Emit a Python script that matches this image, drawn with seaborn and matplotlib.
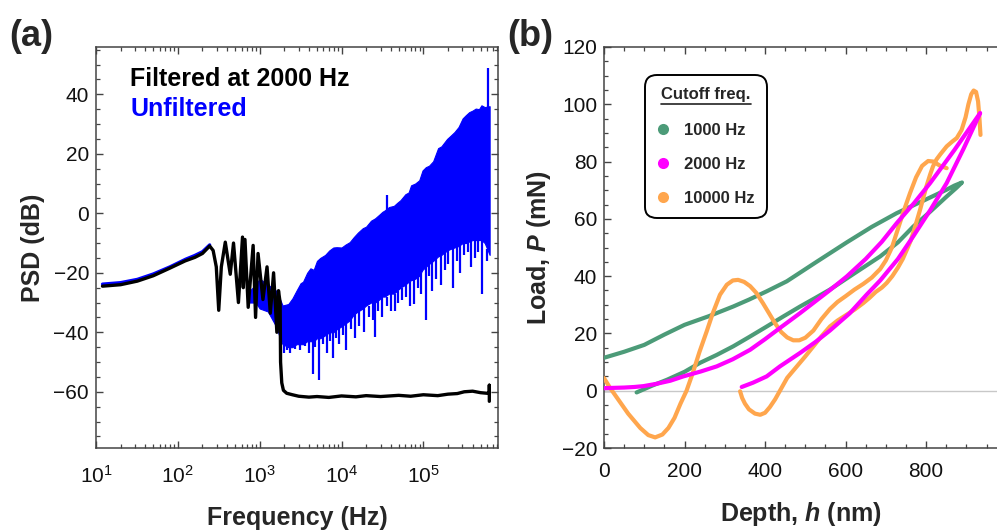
import numpy as np
import pandas as pd
import matplotlib
matplotlib.use("Agg")
import matplotlib.pyplot as plt
import seaborn as sns
from matplotlib.lines import Line2D
from matplotlib.ticker import MultipleLocator, LogLocator, NullFormatter

# ---------------- data: panel (a) PSD ----------------
black_freq = [12, 20, 32, 50, 79, 123, 162, 200, 245, 270, 295, 316, 340, 380, 437, 479,
              550, 617, 631, 661, 724, 832, 891, 955, 1096, 1230, 1349, 1479, 1622, 1698,
              1778, 1800, 1862, 1950, 2138, 2512, 3000, 4000, 5012, 7000, 10000, 15000,
              20000, 30000, 50000, 70000, 100000, 150000, 200000, 260000, 316000, 400000,
              500000, 600000, 640000, 640000, 640000]
black_db = [-24.5, -24.0, -22.8, -21.0, -18.5, -16.0, -14.8, -13.5, -11.0, -12.5, -18.0, -32.6,
            -18.0, -9.7, -20.5, -10.0, -30.0, -8.0, -25.0, -8.8, -31.6, -10.8, -35.0, -13.5,
            -29.0, -18.0, -33.6, -20.0, -40.0, -26.0, -30.0, -50.0, -57.0, -59.5, -60.5,
            -61.0, -61.5, -61.8, -61.6, -61.9, -61.4, -61.7, -61.3, -61.6, -61.2, -61.5,
            -61.0, -61.3, -60.8, -60.6, -60.0, -59.8, -60.3, -60.5, -60.5, -57.8, -63.2]

blue_low_freq = [12, 20, 32, 50, 80, 125, 160, 200, 245]
blue_low_db = [-23.8, -23.3, -22.2, -20.4, -18.0, -15.4, -14.2, -12.9, -10.6]

# unfiltered spectrum envelope (log10 of frequency in Hz)
blue_logf = [2.88, 2.95, 3.0, 3.1, 3.2, 3.25, 3.28, 3.35, 3.4, 3.45, 3.5, 3.53, 3.58, 3.62,
             3.66, 3.7, 3.74, 3.8, 3.85, 3.9, 3.94, 4.0, 4.05, 4.1, 4.15, 4.2, 4.26, 4.3,
             4.36, 4.41, 4.46, 4.5, 4.53, 4.58, 4.64, 4.68, 4.72, 4.78, 4.82, 4.85, 4.9,
             4.95, 4.99, 5.03, 5.07, 5.12, 5.18, 5.22, 5.29, 5.33, 5.38, 5.43, 5.48, 5.52,
             5.56, 5.6, 5.64, 5.68, 5.71, 5.75, 5.81]
blue_top = [-26, -24, -22, -24, -26, -29, -31, -30.5, -28.6, -26, -23.5, -23, -20, -18.5,
            -19, -16, -15, -14, -12.5, -11.5, -11.4, -11.5, -10.5, -9.7, -8, -6.5, -5,
            -4.5, -2.5, -1.7, -0.5, 0.5, 1, 2.1, 2.5, 3.5, 4.4, 6.4, 7, 9.4, 10, 11.1,
            14.4, 15.5, 16, 17.5, 21.9, 22.5, 25, 26, 27.3, 29, 31.9, 33, 34, 34.5, 35.2,
            35, 36.3, 35.7, 36]
blue_bottom = [-30, -30, -32, -33, -38, -42, -44, -45, -45, -44, -44, -44, -43, -43, -43,
               -42, -42, -41, -40, -40, -39, -38, -37, -36, -34, -33, -32, -31, -30, -30,
               -29, -28, -28, -27, -27, -26, -25, -24, -23, -22.5, -22, -21, -19, -18, -17,
               -16, -14.5, -14, -12.5, -12, -11.5, -11, -10, -10, -9.5, -9, -9, -9, -9,
               -10, -14]

spike_logf = [3.3, 3.34, 3.37, 3.43, 3.49, 3.55, 3.6, 3.65, 3.68, 3.72, 3.77, 3.82, 3.86,
              3.9, 3.93, 3.97, 4.02, 4.06, 4.12, 4.16, 4.21, 4.27, 4.33, 4.38, 4.41, 4.45,
              4.5, 4.55, 4.6, 4.65, 4.69, 4.74, 4.79, 4.84, 4.88, 4.93, 4.97, 5.03, 5.07,
              5.11, 5.16, 5.21, 5.26, 5.3, 5.36, 5.41, 5.45, 5.5, 5.54, 5.58, 5.63, 5.67,
              5.72, 5.78]
spike_start = [-44, -45, -45, -44, -44, -43, -43, -43, -42, -42, -41, -40, -40, -40, -39,
               -38, -37, -37, -35, -34, -33, -32, -31, -30, -30, -29, -28, -28, -27, -27,
               -26, -25, -24, -23, -22, -21, -20, -18, -17, -16, -15, -14, -13, -12, -11.5,
               -11, -10.5, -10, -10, -9, -9, -9, -9, -12]
spike_end = [-47, -46, -47, -45.5, -46, -44.5, -47, -54, -45, -56, -44, -47, -43, -48.6,
             -42, -44, -41, -46, -39, -42, -38, -40, -35, -36, -41.5, -33, -35, -31, -33,
             -33, -30, -29, -28, -31, -30.6, -25, -27, -36, -21, -26, -22, -24, -19, -17,
             -25, -16, -20, -14, -13, -18, -15, -13, -27, -16]

upspike_logf = [4.55, 5.79]
upspike_start = [1.0, 35.0]
upspike_end = [6.3, 49.0]

# ---------------- data: panel (b) load-depth ----------------
green_h = [81, 120, 156, 200, 238, 280, 321, 360, 404, 445, 487, 525, 561, 620, 686, 730,
           768, 810, 851, 875, 889,
           870, 851, 800, 727, 665, 603, 528, 454, 404, 360, 321, 260, 200, 150, 100, 50, 0]
green_P = [-0.6, 1.8, 3.8, 6.6, 9.7, 12.5, 15.5, 18.7, 22.4, 25.9, 29.4, 32.4, 35.3, 40.8,
           46.9, 51.8, 57.3, 62.5, 67.8, 70.8, 72.7,
           71.6, 70.2, 66.8, 62.0, 57.2, 51.8, 45.0, 38.2, 34.7, 31.8, 29.4, 26.0, 23.0,
           19.6, 16.0, 13.6, 11.5]

magenta_a_h = [0, 25, 50, 75, 98, 130, 165, 197, 240, 280, 320, 363, 400, 437, 487, 560,
               603, 650, 690, 727, 770, 810, 870, 934]
magenta_a_P = [0.9, 1.0, 1.1, 1.3, 1.6, 2.4, 3.5, 5.0, 6.7, 8.5, 11.0, 14.3, 18.0, 21.9,
               27.1, 35.0, 39.9, 46.0, 52.0, 58.5, 65.5, 72.5, 84.0, 96.9]
magenta_b_h = [342, 370, 404, 437, 487, 525, 561, 610, 652, 686, 730, 768, 810, 851, 893, 934]
magenta_b_P = [1.3, 2.8, 5.0, 8.5, 13.2, 17.0, 21.0, 27.0, 33.5, 38.5, 46.0, 53.9, 63.0,
               72.5, 84.5, 96.9]

orange_a_h = [0, 15, 30, 60, 90, 110, 127, 145, 160, 175, 190, 205, 220, 237, 255, 270,
              288, 305, 320, 333, 348, 363, 378, 395, 410, 425, 440, 455, 470, 485, 500,
              520, 540, 561, 580, 600, 622, 644, 665, 686, 700, 715, 730, 745, 760, 775,
              790, 805, 818, 835, 851]
orange_a_P = [4.4, 1.0, -2.0, -8.0, -13.0, -15.5, -16.3, -15.3, -13.0, -9.5, -4.5, 0.0,
              6.0, 13.5, 20.7, 27.0, 33.5, 37.0, 38.5, 38.7, 38.0, 36.5, 34.2, 30.5, 27.0,
              23.5, 20.5, 18.6, 17.6, 17.6, 18.5, 21.0, 25.0, 28.5, 31.0, 33.0, 35.3, 37.3,
              39.5, 42.5, 45.5, 50.0, 56.5, 63.0, 69.0, 74.5, 78.5, 80.2, 80.0, 78.5, 77.7]
orange_b_h = [338, 343, 350, 360, 375, 388, 400, 412, 425, 437, 455, 479, 500, 520, 540,
              561, 580, 600, 622, 644, 660, 675, 690, 702, 716, 730, 742, 752, 762, 772,
              785, 800, 810, 817, 826, 835, 851, 865, 876, 888, 898, 905, 912, 918, 924,
              929, 932, 934, 935]
orange_b_P = [-0.2, -2.5, -4.5, -6.5, -8.0, -8.4, -7.7, -5.7, -3.0, 0.0, 4.5, 8.5, 12.0,
              15.5, 19.0, 22.4, 24.5, 26.3, 28.3, 30.6, 32.5, 34.5, 36.0, 37.6, 40.0, 43.0,
              46.0, 49.2, 52.5, 57.0, 63.2, 71.0, 75.5, 78.3, 80.8, 82.5, 85.3, 87.0, 88.2,
              91.0, 95.5, 100.0, 103.5, 104.8, 104.3, 101.0, 96.0, 91.5, 89.3]

legend_labels = ["1000 Hz", "2000 Hz", "10000 Hz"]
legend_colors = ["#4c9b78", "#ff00ff", "#ffa64d"]

# ---------------- style ----------------
sns.set_theme(style="white")
plt.rcParams["font.family"] = ["Liberation Sans", "DejaVu Sans"]
plt.rcParams["mathtext.fontset"] = "custom"
plt.rcParams["mathtext.rm"] = "Liberation Sans"
plt.rcParams["mathtext.it"] = "Liberation Sans:italic:bold"
plt.rcParams["mathtext.bf"] = "Liberation Sans:bold"
plt.rcParams["axes.edgecolor"] = "#444444"
plt.rcParams["axes.linewidth"] = 1.1

W, H = 997, 530
fig = plt.figure(figsize=(W / 100, H / 100), dpi=100)
fig.patch.set_facecolor("white")


def fx(px):
    return px / W


def fy(py):
    return 1 - py / H


axa = fig.add_axes([fx(96), fy(448), fx(498) - fx(96), fy(47) - fy(448)])
axb = fig.add_axes([fx(604), fy(448), 1.0 - fx(604), fy(47) - fy(448)])

TICK_FS = 15
LABEL_FS = 18

# ---------------- panel (a) ----------------
blue_freq = np.power(10.0, blue_logf)
spike_freq = np.power(10.0, spike_logf)
upspike_freq = np.power(10.0, upspike_logf)

axa.fill_between(blue_freq, blue_bottom, blue_top, color="#0000ff", lw=0.8,
                 edgecolor="#0000ff", zorder=2)
axa.vlines(spike_freq, spike_start, spike_end, color="#0000ff", lw=1.6, zorder=2)
axa.vlines(upspike_freq, upspike_start, upspike_end, color="#0000ff", lw=1.6, zorder=2)
sns.lineplot(x=blue_low_freq, y=blue_low_db, sort=False, estimator=None, ax=axa,
             color="#0000ff", lw=2.3, zorder=3)
sns.lineplot(x=black_freq, y=black_db, sort=False, estimator=None, ax=axa,
             color="black", lw=2.4, zorder=4)

axa.set_xscale("log")
axa.set_yticks([-60, -40, -20, 0, 20, 40])
axa.yaxis.set_minor_locator(MultipleLocator(5))
axa.xaxis.set_minor_locator(LogLocator(base=10, subs=np.arange(2, 10), numticks=20))
axa.xaxis.set_minor_formatter(NullFormatter())
axa.set_xticks([1e1, 1e2, 1e3, 1e4, 1e5])
axa.set_xlim(10, 8.17e5)
axa.set_ylim(-78.9, 55.9)
axa.tick_params(which="both", direction="in", bottom=True, left=True, top=True, right=True,
                color="#444444", labelsize=TICK_FS, labelcolor="#111111")
axa.tick_params(which="major", length=5, width=1)
axa.tick_params(which="minor", length=3, width=0.9)
axa.tick_params(axis="x", which="major", pad=12)
axa.tick_params(axis="y", which="major", pad=5)
axa.set_xlabel("Frequency (Hz)", fontsize=LABEL_FS, fontweight="bold", labelpad=14)
axa.set_ylabel("PSD (dB)", fontsize=LABEL_FS, fontweight="bold", labelpad=6)
axa.text(0.085, 0.92, "Filtered at 2000 Hz", transform=axa.transAxes, fontsize=18,
         fontweight="bold", color="black", va="center", ha="left")
axa.text(0.085, 0.845, "Unfiltered", transform=axa.transAxes, fontsize=18,
         fontweight="bold", color="#0000ff", va="center", ha="left")

# ---------------- panel (b) ----------------
axb.axhline(0, color="#c8c8c8", lw=1.0, zorder=1)
sns.lineplot(x=green_h, y=green_P, sort=False, estimator=None, ax=axb,
             color=legend_colors[0], lw=3.0, zorder=3)
sns.lineplot(x=orange_a_h, y=orange_a_P, sort=False, estimator=None, ax=axb,
             color=legend_colors[2], lw=3.0, zorder=3)
sns.lineplot(x=orange_b_h, y=orange_b_P, sort=False, estimator=None, ax=axb,
             color=legend_colors[2], lw=3.0, zorder=3)
sns.lineplot(x=magenta_a_h, y=magenta_a_P, sort=False, estimator=None, ax=axb,
             color=legend_colors[1], lw=3.0, zorder=4)
sns.lineplot(x=magenta_b_h, y=magenta_b_P, sort=False, estimator=None, ax=axb,
             color=legend_colors[1], lw=3.0, zorder=4)

axb.set_xlim(0, 976)
axb.set_ylim(-20, 120)
axb.set_xticks([0, 200, 400, 600, 800])
axb.set_yticks([-20, 0, 20, 40, 60, 80, 100, 120])
axb.xaxis.set_minor_locator(MultipleLocator(50))
axb.yaxis.set_minor_locator(MultipleLocator(5))
axb.tick_params(which="both", direction="in", bottom=True, left=True, top=True, right=False,
                color="#444444", labelsize=TICK_FS, labelcolor="#111111")
axb.tick_params(which="major", length=5, width=1)
axb.tick_params(which="minor", length=3, width=0.9)
axb.tick_params(axis="x", which="major", pad=10)
axb.tick_params(axis="y", which="major", pad=5)
axb.spines["right"].set_visible(False)
axb.set_xlabel("Depth, $h$ (nm)", fontsize=LABEL_FS, fontweight="bold", labelpad=14)
axb.set_ylabel("Load, $P$ (mN)", fontsize=LABEL_FS, fontweight="bold", labelpad=6)

handles = [Line2D([], [], ls="none", marker="o", markersize=8, color=c, markeredgewidth=0)
           for c in legend_colors]
leg = axb.legend(handles, legend_labels, title="Cutoff freq.", loc="upper left",
                 bbox_to_anchor=(0.104, 0.93), borderaxespad=0, frameon=True,
                 fancybox=True, framealpha=1, edgecolor="black", handlelength=0.7,
                 handletextpad=0.95, labelspacing=1.15, borderpad=0.72,
                 prop={"weight": "bold", "size": 12},
                 title_fontproperties={"weight": "bold", "size": 12})
leg.get_frame().set_linewidth(1.4)
leg.get_frame().set_boxstyle("round,pad=0,rounding_size=0.7")
leg._legend_box.sep = 15

# panel labels
fig.text(fx(9), fy(36), "(a)", fontsize=26, fontweight="bold", va="center", ha="left")
fig.text(fx(507), fy(36), "(b)", fontsize=26, fontweight="bold", va="center", ha="left")

# underline the legend title
fig.canvas.draw()
r = fig.canvas.get_renderer()
tb = leg.get_title().get_window_extent(r)
inv = fig.transFigure.inverted()
(x0, y0), (x1, _) = inv.transform([(tb.x0, tb.y0 - 2), (tb.x1, tb.y0 - 2)])
fig.add_artist(Line2D([x0, x1], [y0, y0], transform=fig.transFigure, color="#222222", lw=1.2))

fig.savefig("out.png", dpi=100, facecolor="white")
